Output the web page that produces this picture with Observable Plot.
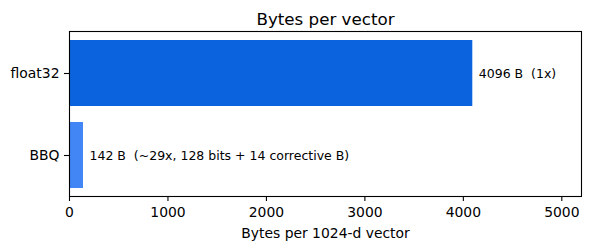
<!DOCTYPE html>
<html>
<head>
<meta charset="utf-8">
<script src="https://cdn.jsdelivr.net/npm/d3@7"></script>
<script src="https://cdn.jsdelivr.net/npm/@observablehq/plot@0.6"></script>
<style>
  html, body { margin: 0; padding: 0; background: #fff; }
</style>
</head>
<body>
<div id="chart"></div>
<script>
const categories = ["float32", "BBQ"];
const bytes = [4096, 142];
const annotations = ["4096 B  (1x)", "142 B  (~29x, 128 bits + 14 corrective B)"];
const colors = ["#0b64dd", "#4285f4"];
const xTicks = [0, 1000, 2000, 3000, 4000, 5000];
const title = "Bytes per vector";
const xLabel = "Bytes per 1024-d vector";

const data = categories.map((c, i) => ({category: c, value: bytes[i], note: annotations[i], color: colors[i]}));

const chart = Plot.plot({
  width: 590,
  height: 249,
  marginLeft: 69,
  marginRight: 9,
  marginTop: 31,
  marginBottom: 53,
  style: {fontFamily: "DejaVu Sans, sans-serif", fontSize: "13.9px", color: "#000", background: "#fff", overflow: "visible"},
  x: {domain: [0, 5200], ticks: xTicks, label: null},
  y: {domain: categories, paddingInner: 0.2, paddingOuter: 0.1, label: null},
  marks: [
    Plot.barX(data, {x: "value", y: "category", fill: "color"}),
    Plot.text(data, {x: "value", y: "category", text: "note", textAnchor: "start", dx: 6, fontSize: 12.5, fill: "#000"}),
    Plot.frame({stroke: "#000", strokeWidth: 1.1}),
    Plot.axisX({ticks: xTicks, tickSize: 5, tickPadding: 6, label: null, strokeWidth: 1.1, tickFormat: d => String(d)}),
    Plot.axisY({tickSize: 5, tickPadding: 5, label: null, strokeWidth: 1.1}),
    Plot.text([title], {frameAnchor: "top", dy: -7, lineAnchor: "bottom", fontSize: 16.7, fill: "#000"}),
    Plot.text([xLabel], {frameAnchor: "bottom", dy: 41, lineAnchor: "bottom", fontSize: 13.9, fill: "#000"})
  ]
});
document.getElementById("chart").appendChild(chart);
</script>
</body>
</html>
